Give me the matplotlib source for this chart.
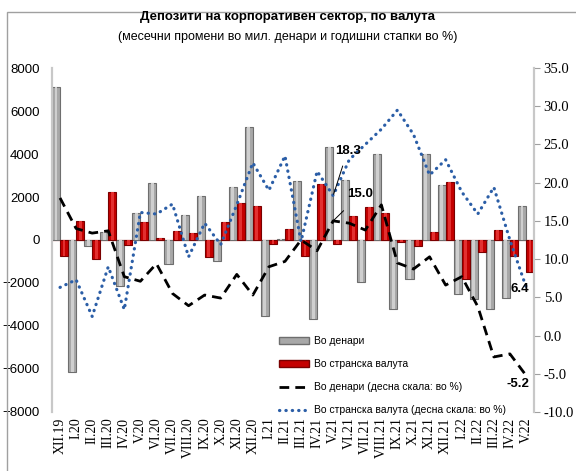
import numpy as np
import matplotlib
matplotlib.use("Agg")
import matplotlib.pyplot as plt
from matplotlib.patches import Rectangle
from matplotlib.lines import Line2D

# месеци
months = ["XII.19", "I.20", "II.20", "III.20", "IV.20", "V.20", "VI.20", "VII.20",
          "VIII.20", "IX.20", "X.20", "XI.20", "XII.20", "I.21", "II.21", "III.21",
          "IV.21", "V.21", "VI.21", "VII.21", "VIII.21", "IX.21", "X.21", "XI.21",
          "XII.21", "I.22", "II.22", "III.22", "IV.22", "V.22"]

# месечни промени, мил. денари
denari = [7100, -6120, -260, 360, -2120, 1260, 2640, -1120, 1180, 2030,
          -980, 2450, 5270, -3550, 50, 2760, -3670, 4310, 2790, -1940,
          4000, -3210, -1810, 4000, 2570, -2510, -2740, -3210, -2710, 1600]
strana = [-760, 870, -880, 2250, -220, 820, 110, 400, 330, -800,
          820, 1700, 1600, -190, 500, -760, 2600, -190, 1130, 1550,
          1240, -110, -260, 390, 2710, -1810, -570, 470, -760, -1470]

# годишни стапки, %
denari_pct = [18.0, 14.0, 13.4, 13.7, 7.7, 7.1, 9.4, 5.5, 3.9, 5.3,
              4.9, 8.0, 5.3, 9.0, 9.7, 12.5, 11.1, 15.0, 14.7, 13.8,
              17.1, 9.5, 8.7, 10.3, 6.6, 7.7, 3.8, -2.8, -2.4, -5.2]
strana_pct = [6.3, 7.3, 2.5, 9.0, 3.4, 16.1, 15.9, 17.2, 10.3, 14.7,
              11.9, 17.1, 22.6, 19.0, 23.5, 12.3, 21.5, 18.3, 23.0, 25.0,
              27.0, 29.5, 26.3, 21.0, 23.0, 18.8, 15.9, 19.4, 12.5, 6.4]

sans = ["Liberation Sans", "DejaVu Sans"]
serif = ["Liberation Serif", "DejaVu Serif"]

fig = plt.figure(figsize=(5.76, 4.71), dpi=100)
ax = fig.add_axes([0.0903, 0.1253, 0.8368, 0.7303])
ax2 = ax.twinx()

x = np.arange(len(months))
w = 0.5
ax.axhline(0, color="#e8b0b0", lw=1.0, zorder=1)
ax.bar(x - w / 2, denari, w, color="#a8a8a8", edgecolor="#6e6e6e", lw=0.8, zorder=2)
ax.bar(x - w / 2, denari, w * 0.35, color="#cfcfcf", lw=0, zorder=2.1)
ax.bar(x + w / 2, strana, w, color="#c40000", edgecolor="#7a0000", lw=0.8, zorder=2)
ax.bar(x + w / 2, strana, w * 0.35, color="#e23030", lw=0, zorder=2.1)

dash = (0, (3.5, 2.2))
dots = (0, (0.1, 1.9))
ax2.plot(x, denari_pct, color="black", lw=2.0, ls=dash)
ax2.plot(x, strana_pct, color="#2b5ea7", lw=2.3, ls=dots, dash_capstyle="round")

ax.set_xlim(-0.5, len(months) - 0.5)
ax.set_ylim(-8000, 8000)
ax2.set_ylim(-10, 35)
ax.set_yticks(np.arange(-8000, 8001, 2000))
ax2.set_yticks(np.arange(-10, 35.1, 5))
ax2.set_yticklabels([f"{v:.1f}" for v in np.arange(-10, 35.1, 5)],
                    family=serif, fontsize=10.5)
for lab in ax.get_yticklabels():
    lab.set_family(sans)
    lab.set_fontsize(9.5)
ax.set_xticks(x)
ax.set_xticklabels(months, rotation=90, family=serif, fontsize=10)
ax.tick_params(axis="x", length=0, pad=4)
ax.tick_params(axis="y", length=0, pad=9)
ax2.tick_params(axis="y", direction="out", length=4, color="#a0a0a0", pad=3)

for a in (ax, ax2):
    a.spines["top"].set_visible(False)
    a.spines["bottom"].set_visible(False)
    a.spines["left"].set_color("#c8c8c8")
    a.spines["right"].set_color("#c8c8c8")
    a.spines["left"].set_linewidth(1.5)
    a.spines["right"].set_linewidth(1.5)

# ознаки на вредности
ax2.annotate("18.3", xy=(17, strana_pct[17]), xytext=(17.9, 24.2),
             fontsize=9.5, fontweight="bold", family=sans, ha="center", va="center",
             arrowprops=dict(arrowstyle="-", color="black", lw=0.7, shrinkA=5, shrinkB=1))
ax2.annotate("15.0", xy=(17, denari_pct[17]), xytext=(18.7, 18.5),
             fontsize=9.5, fontweight="bold", family=sans, ha="center", va="center",
             arrowprops=dict(arrowstyle="-", color="black", lw=0.7, shrinkA=8, shrinkB=1))
ax2.text(29.2, strana_pct[-1] - 0.3, "6.4", fontsize=9.5, fontweight="bold",
         family=sans, ha="right", va="center")
ax2.text(29.2, denari_pct[-1] - 1.1, "-5.2", fontsize=9.5, fontweight="bold",
         family=sans, ha="right", va="center")

handles = [Rectangle((0, 0), 1, 1, fc="#a8a8a8", ec="#6e6e6e"),
           Rectangle((0, 0), 1, 1, fc="#c40000", ec="#7a0000"),
           Line2D([], [], color="black", lw=2.0, ls=dash),
           Line2D([], [], color="#2b5ea7", lw=2.3, ls=dots, dash_capstyle="round")]
labels = ["Во денари", "Во странска валута", "Во денари (десна скала: во %)",
          "Во странска валута (десна скала: во %)"]
ax2.legend(handles, labels, loc="upper left", bbox_to_anchor=(0.463, 0.232),
           frameon=False, prop={"family": sans, "size": 7.5},
           handlelength=2.8, handleheight=0.6, handletextpad=0.5,
           labelspacing=1.25, borderaxespad=0)

fig.text(0.5, 0.963, "Депозити на корпоративен сектор, по валута",
         ha="center", va="center", fontsize=9.5, fontweight="bold", family=sans)
fig.text(0.5, 0.921, "(месечни промени во мил. денари и годишни стапки во %)",
         ha="center", va="center", fontsize=9, family=sans)

# рамка
fig.patches.append(Rectangle((0.012, -0.01), 1.0, 0.985, transform=fig.transFigure,
                             fill=False, ec="#a0a0a0", lw=1.0))

fig.savefig("out.png", dpi=100)
